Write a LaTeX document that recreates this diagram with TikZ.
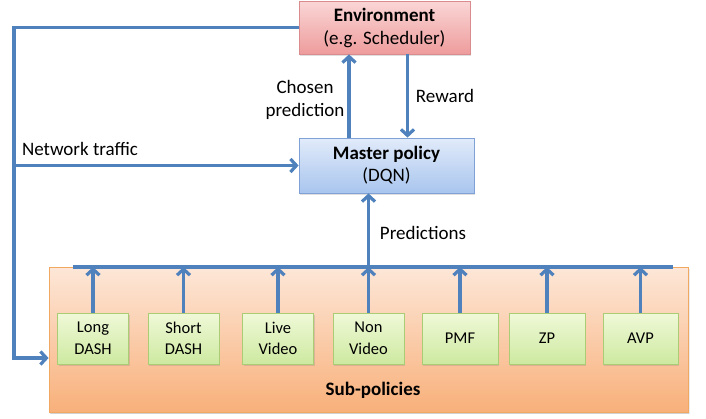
\documentclass[tikz,border=0pt]{standalone}
\usepackage{fontspec}
\setmainfont{Carlito}
\usetikzlibrary{arrows.meta,shadows}
\definecolor{wire}{HTML}{4F81BD}
\definecolor{envtop}{HTML}{FAD6D6}
\definecolor{envbot}{HTML}{EE9C9C}
\definecolor{envline}{HTML}{D98B8D}
\definecolor{dqntop}{HTML}{E1EBFA}
\definecolor{dqnbot}{HTML}{A9C5EE}
\definecolor{dqnline}{HTML}{7FA1D6}
\definecolor{subtop}{HTML}{F0F9D8}
\definecolor{subbot}{HTML}{CDE9A0}
\definecolor{subline}{HTML}{A9CC74}
\definecolor{pooltop}{HTML}{FDE7D8}
\definecolor{poolbot}{HTML}{F8B07A}
\definecolor{poolline}{HTML}{F1A862}

\begin{document}
\begin{tikzpicture}[x=1pt,y=-1pt,>={Straight Barb[length=6pt,width=13pt]},
  flow/.style={draw=wire,line width=3.2pt},
  box/.style={line width=0.8pt,align=center,inner sep=0pt,
    drop shadow={shadow xshift=1.2pt,shadow yshift=-1.5pt,opacity=0.25}},
  leaf/.style={box,top color=subtop,bottom color=subbot,draw=subline,
    minimum width=71pt,minimum height=51pt,font=\fontsize{16.5}{21.5}\selectfont},
  lbl/.style={align=center,font=\fontsize{19}{23}\selectfont}]
  \useasboundingbox (0,0) rectangle (706,418);

  % environment and master policy
  \node[box,top color=envtop,bottom color=envbot,draw=envline,
    minimum width=171pt,minimum height=53pt,font=\fontsize{19}{23}\selectfont]
    (env) at (384.5,27.5) {\textbf{Environment}\\(e.g. Scheduler)};
  \node[box,top color=dqntop,bottom color=dqnbot,draw=dqnline,
    minimum width=175pt,minimum height=55pt,font=\fontsize{19}{22}\selectfont]
    (master) at (386.5,165.5) {\textbf{Master policy}\\(DQN)};

  % the pool of sub-policies
  \node[box,drop shadow={opacity=0.15},top color=pooltop,bottom color=poolbot,draw=poolline,
    minimum width=639pt,minimum height=145pt] (pool) at (368.5,339.5) {};
  \node[lbl,font=\fontsize{19}{23}\selectfont\bfseries] (pooltitle) at (373,390) {Sub-policies};

  \node[leaf] (longd) at (93,338.5) {Long\\DASH};
  \node[leaf] (shortd) at (183.5,338.5) {Short\\DASH};
  \node[leaf] (livev) at (278,338.5) {Live\\Video};
  \node[leaf] (nonv) at (368.5,338.5) {Non\\Video};
  \node[leaf,minimum width=76pt] (pmf) at (460,338.5) {PMF};
  \node[leaf,minimum width=76pt] (zp) at (547,338.5) {ZP};
  \node[leaf,minimum width=75pt] (avp) at (640.5,338.5) {AVP};

  % bus collecting the predictions
  \coordinate (busl) at (73,267);
  \coordinate (busr) at (673,267);
  \draw[flow] (busl) -- (busr);
  \foreach \p in {longd,shortd,livev,nonv,pmf,zp,avp}
    \draw[flow,->] (\p.north) -- (\p.north |- busl);
  \draw[flow,->] (nonv.north |- busl) -- (nonv.north |- master.south);
  \node[lbl] (predlbl) at (423,233) {Predictions};

  % master <-> environment
  \draw[flow,->] ([xshift=-37.5pt]master.north) -- ([xshift=-37.5pt]master.north |- env.south);
  \draw[flow,->] ([xshift=21pt]master.north |- env.south) -- ([xshift=21pt]master.north);
  \node[lbl] (chosenlbl) at (305,100) {Chosen\\prediction};
  \node[lbl] (rewardlbl) at (445,96) {Reward};

  % traffic fed back to the policies
  \coordinate (rail) at (14,358);
  \draw[flow,->] (env.west) -| (rail) -- (rail -| pool.west);
  \draw[flow,->] (rail |- master.west) -- (master.west);
  \node[lbl] (trafficlbl) at (80,149) {Network traffic};
\end{tikzpicture}
\end{document}
